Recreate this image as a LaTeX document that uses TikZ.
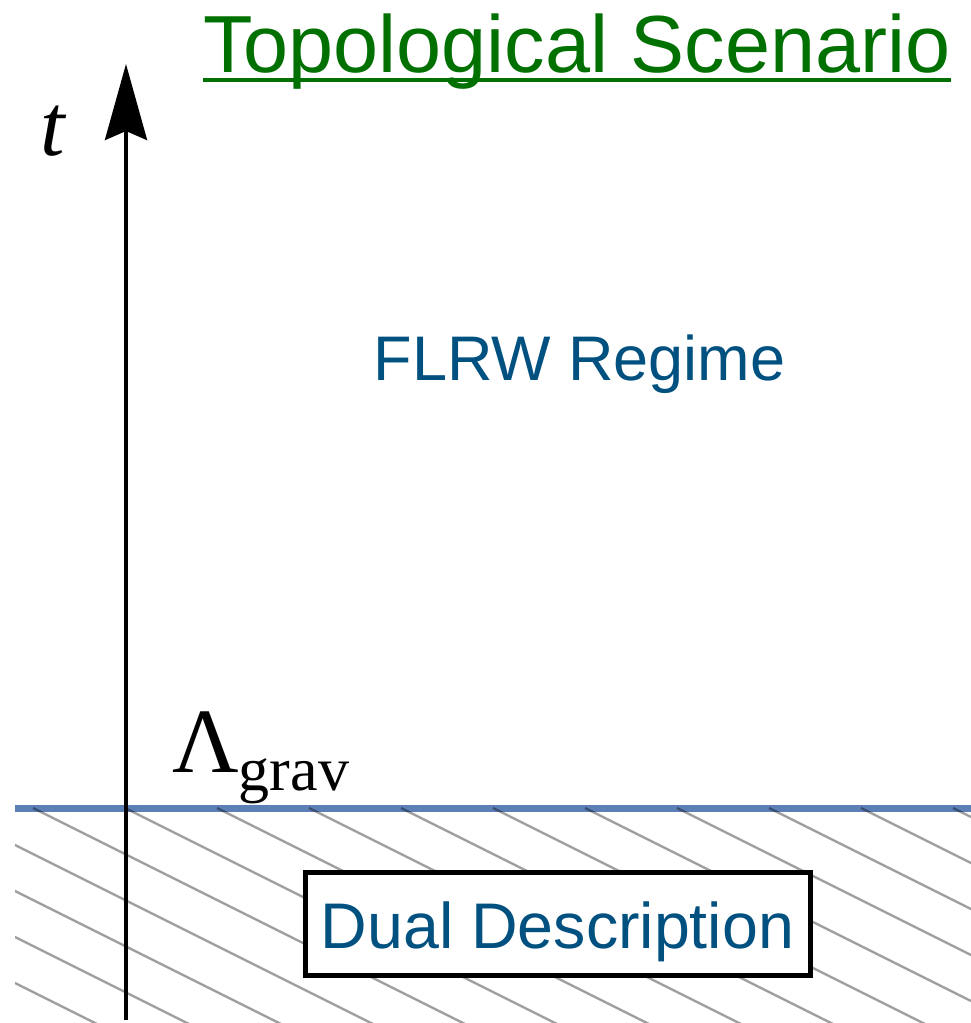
\documentclass[tikz,border=0pt]{standalone}
\usepackage{fontspec}
\setmainfont{Liberation Serif}
\newfontfamily\hv{Liberation Sans}
\usetikzlibrary{arrows.meta}
\definecolor{titlegreen}{RGB}{0,112,0}
\definecolor{textblue}{RGB}{0,80,128}
\definecolor{lineblue}{RGB}{92,127,181}
\tikzset{
  sanslabel/.style={inner sep=0pt, text=textblue, font=\hv\fontsize{63}{70}\selectfont},
  hatchline/.style={black, opacity=0.38, line width=2.4pt},
}
\begin{document}
\begin{tikzpicture}[x=1pt,y=-1pt]
\useasboundingbox (0,0) rectangle (971,1023);
% title
\node[inner sep=0pt, anchor=base west, text=titlegreen, font=\hv\fontsize{81}{90}\selectfont] (title) at (203,72) {Topological Scenario};
\draw[titlegreen, line width=4pt] ([yshift=-8pt]title.base west) -- ([yshift=-8pt]title.base east);
% regime labels
\node[sanslabel, anchor=base] (flrw) at (579.5,380) {FLRW Regime};
% horizontal threshold line
\coordinate (hl) at (15,808.5);
\coordinate (hr) at (971,808.5);
\draw[lineblue, line width=7pt] (hl) -- (hr);
% hatching
\begin{scope}
\clip (15,806) rectangle (971,1023);
\foreach \k in {-6,...,11} {
  \draw[hatchline] ({33+92*\k},808) -- ({33+92*\k+500},1058);
}
\end{scope}
% time axis
\coordinate (axbot) at (126,1020);
\coordinate (axtop) at (126,64);
\draw[line width=4pt, -{Stealth[length=76pt, width=42pt, inset=9pt]}] (axbot) -- (axtop);
\node[inner sep=0pt, anchor=base west, font=\fontsize{88}{96}\selectfont] (tlab) at (40,155) {\textit{t}};
% Lambda label
\node[inner sep=0pt, anchor=base west, font=\fontsize{92}{100}\selectfont] (lam) at (172,772) {Λ\raisebox{-18pt}{\fontsize{62}{70}\selectfont grav}};
% dual description box
\node[inner sep=0pt, text=textblue, font=\hv\fontsize{64.5}{70}\selectfont, draw=black, line width=5pt, fill=white, anchor=base,
      minimum width=505pt, text height=76pt, text depth=27pt] (dual) at (557.5,948) {Dual Description};
\end{tikzpicture}
\end{document}
